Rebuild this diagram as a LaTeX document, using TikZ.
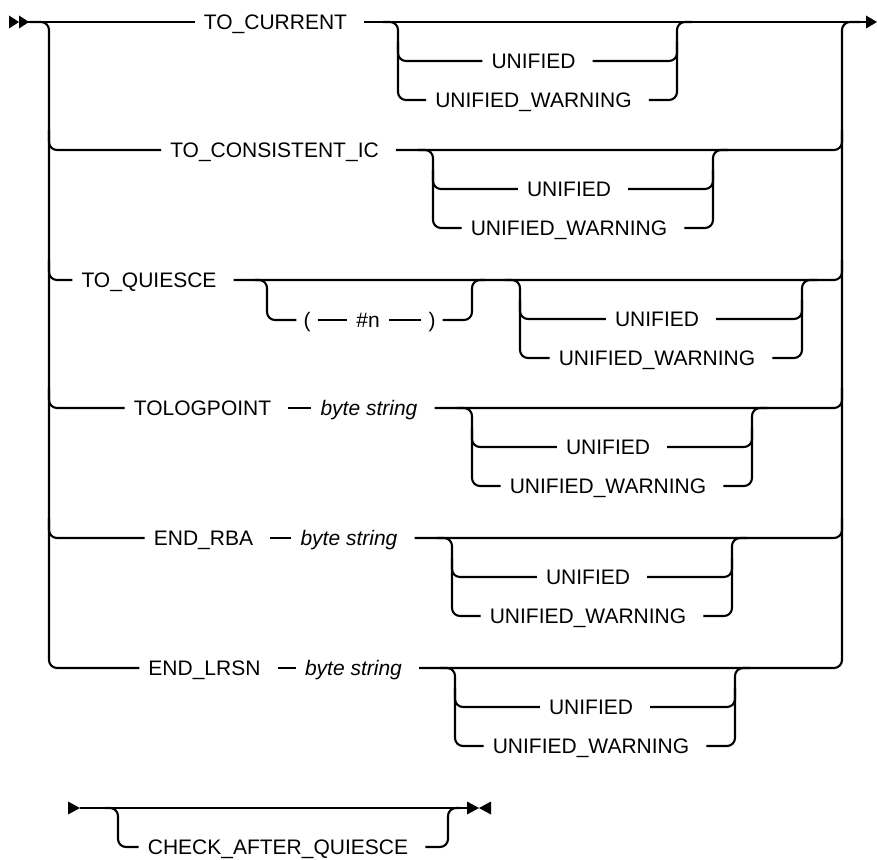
\documentclass[tikz,border=0pt]{standalone}
\usepackage{fontspec}
\newfontfamily\rrfont{Liberation Sans}
\newcommand{\ugrp}[4]{%
  \node[kw] (#1u) at ({(#2+#3)/2},{#4+39}) {UNIFIED\kern8pt};
  \node[kw] (#1w) at ({(#2+#3)/2},{#4+78}) {UNIFIED\_WARNING\kern8pt};
  \draw[rail] ({#2-15},#4) -- (#2,#4) -- (#2,{#4+78}) -- (#1w.west);
  \draw[rail] (#2,{#4+20}) -- (#2,{#4+39}) -- (#1u.west);
  \draw[rail] (#1u.east) -- (#3,{#4+39}) -- (#3,{#4+20});
  \draw[rail] (#1w.east) -- (#3,{#4+78}) -- (#3,#4) -- ({#3+15},#4);
}
\begin{document}
\begin{tikzpicture}[x=1pt,y=-1pt,
  rail/.style={line width=2.1pt, rounded corners=8pt},
  kw/.style={font=\rrfont\fontsize{21}{25}\selectfont, inner xsep=9pt, inner ysep=0pt, text height=15pt, text depth=0pt},
  var/.style={kw, font=\rrfont\itshape\fontsize{21}{25}\selectfont},
  parn/.style={kw, inner xsep=7pt}]
\useasboundingbox (0,0) rectangle (877,859);

% ---------- row 1 ----------
\node[kw] (tc) at (279.5,22) {TO\_CURRENT\kern8pt};
\draw[rail] (28,22) -- (tc.west);
\draw[rail] (tc.east) -- (867,22);
\ugrp{a}{398}{677}{22}

% ---------- row 2 ----------
\node[kw] (tci) at (278.5,150) {TO\_CONSISTENT\_IC\kern8pt};
\draw[rail] (49,130) -- (49,150) -- (tci.west);
\draw[rail] (tci.east) -- (842,150) -- (842,130);
\ugrp{b}{433}{713}{150}

% ---------- row 3 ----------
\node[kw] (tq) at (153,280) {TO\_QUIESCE\kern8pt};
\draw[rail] (49,260) -- (49,280) -- (tq.west);
\draw[rail] (tq.east) -- (842,280) -- (842,260);
\node[parn] (lp) at (307,320) {(};
\node[kw] (hn) at (368,320) {\#n};
\node[parn] (rp) at (432,320) {)};
\draw[rail] (255,280) -- (267,280) -- (267,320) -- (lp.west);
\draw[rail] (lp.east) -- (hn.west);
\draw[rail] (hn.east) -- (rp.west);
\draw[rail] (rp.east) -- (472,320) -- (472,280) -- (485,280);
\ugrp{c}{520}{802}{280}

% ---------- row 4 ----------
\node[kw] (tl) at (206.5,408) {TOLOGPOINT\kern8pt};
\node[var] (bs4) at (373,408) {byte string\kern8pt};
\draw[rail] (49,388) -- (49,408) -- (tl.west);
\draw[rail] (tl.east) -- (bs4.west);
\draw[rail] (bs4.east) -- (842,408) -- (842,388);
\ugrp{d}{472}{752}{408}

% ---------- row 5 ----------
\node[kw] (er) at (207.5,538) {END\_RBA\kern8pt};
\node[var] (bs5) at (353,538) {byte string\kern8pt};
\draw[rail] (49,518) -- (49,538) -- (er.west);
\draw[rail] (er.east) -- (bs5.west);
\draw[rail] (bs5.east) -- (842,538) -- (842,518);
\ugrp{e}{452}{732}{538}

% ---------- row 6 ----------
\node[kw] (el) at (208.5,668) {END\_LRSN\kern8pt};
\node[var] (bs6) at (357.5,668) {byte string\kern8pt};
\draw[rail] (el.east) -- (bs6.west);
\ugrp{f}{455}{735}{668}

% ---------- main rails ----------
\draw[rail] (30,22) -- (49,22) -- (49,668) -- (el.west);
\draw[rail] (bs6.east) -- (842,668) -- (842,22) -- (860,22);

% ---------- arrows row 1 ----------
\fill (9,15.5) -- (19,22) -- (9,28.5) -- cycle;
\fill (19,15.5) -- (29,22) -- (19,28.5) -- cycle;
\fill (866,15.5) -- (877,22) -- (866,28.5) -- cycle;

% ---------- bottom diagram ----------
\node[kw] (caq) at (282,847) {CHECK\_AFTER\_QUIESCE\kern8pt};
\draw[rail] (80,808) -- (468,808);
\draw[rail] (105,808) -- (118,808) -- (118,847) -- (caq.west);
\draw[rail] (caq.east) -- (448,847) -- (448,808) -- (460,808);
\fill (68,801.5) -- (80,808) -- (68,814.5) -- cycle;
\fill (467,801.5) -- (479,808) -- (467,814.5) -- cycle;
\fill (491,801.5) -- (479,808) -- (491,814.5) -- cycle;
\end{tikzpicture}
\end{document}
